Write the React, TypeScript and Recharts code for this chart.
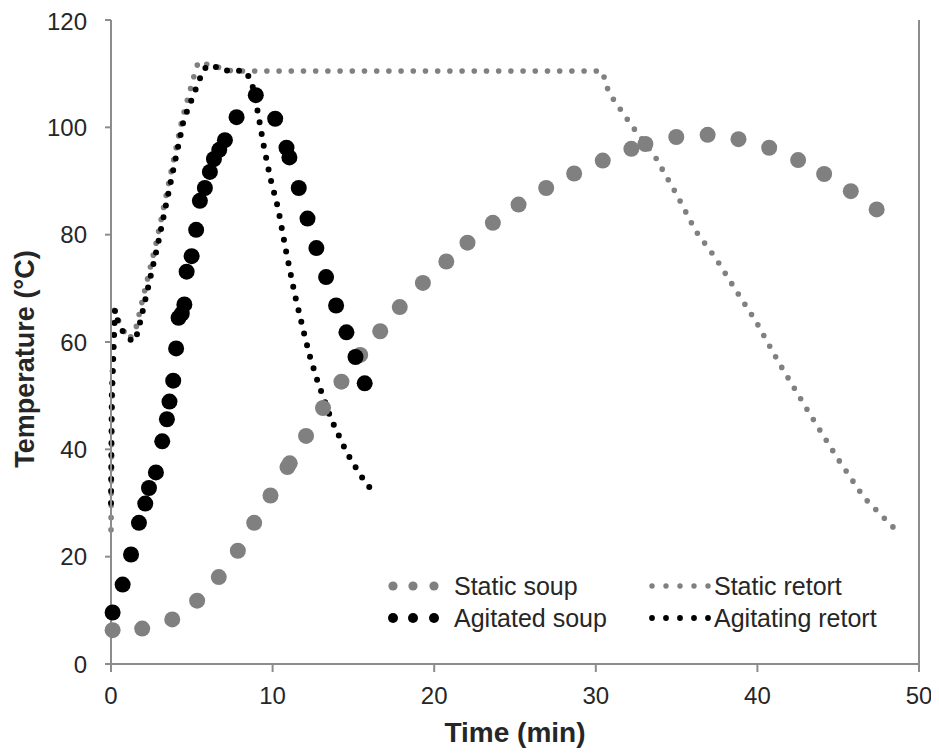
import React from 'react';
import {
  ComposedChart, Scatter, Line, XAxis, YAxis, ReferenceLine, Legend, Label,
} from 'recharts';

const GREY = '#808080';
const AXIS = '#8c8c8c';
const INK = '#262626';
const FONT = "'Liberation Sans', Arial, Helvetica, sans-serif";

/* Soup core temperature, static can (min / °C) */
const staticSoupTime = [
  0.1, 1.93, 3.79, 5.33, 6.67, 7.85, 8.86, 9.87, 10.92, 11.06, 12.07, 13.12, 14.26, 15.42,
  16.66, 17.87, 19.3, 20.75, 22.06, 23.63, 25.22, 26.93, 28.66, 30.43, 32.2, 33.07, 34.98,
  36.92, 38.83, 40.73, 42.52, 44.13, 45.78, 47.38,
];
const staticSoupTemp = [
  6.3, 6.6, 8.3, 11.8, 16.2, 21.1, 26.3, 31.4, 36.7, 37.4, 42.5, 47.7, 52.6, 57.6,
  62.0, 66.5, 71.0, 75.0, 78.5, 82.2, 85.6, 88.7, 91.4, 93.8, 96.0, 96.9, 98.2,
  98.6, 97.8, 96.2, 93.9, 91.3, 88.1, 84.7,
];

/* Soup core temperature, agitated can */
const agitatedSoupTime = [
  0.1, 0.72, 1.24, 1.73, 2.12, 2.35, 2.78, 3.17, 3.46, 3.62, 3.85, 4.03, 4.18, 4.38, 4.54,
  4.68, 4.99, 5.27, 5.5, 5.81, 6.12, 6.37, 6.7, 7.05, 7.77, 8.96, 10.16, 10.86, 11.04,
  11.62, 12.16, 12.71, 13.31, 13.93, 14.57, 15.13, 15.7,
];
const agitatedSoupTemp = [
  9.6, 14.8, 20.4, 26.3, 29.9, 32.8, 35.7, 41.5, 45.6, 48.9, 52.8, 58.8, 64.5, 65.3, 67.0,
  73.1, 76.0, 80.9, 86.3, 88.7, 91.7, 94.1, 95.8, 97.6, 101.9, 106.0, 101.6, 96.2, 94.4,
  88.7, 83.0, 77.5, 72.1, 66.8, 61.8, 57.2, 52.3,
];

/* Retort temperature, static process */
const staticRetortTime = [
  0, 0.05, 0.2, 0.6, 1.1, 1.5, 2.0, 2.8, 3.6, 4.4, 5.15, 5.4, 6.1, 7.5, 30.4, 30.8, 32.2,
  33.6, 35.0, 36.2, 37.4, 38.7, 39.9, 41.3, 43.2, 44.9, 46.6, 48.4,
];
const staticRetortTemp = [
  25, 45, 66, 63, 60.5, 62, 68.5, 78.5, 90, 101.5, 109.7, 112.2, 111.6, 110.5, 110.5, 106.5, 100.4,
  94.9, 87.5, 80.6, 75.7, 69.5, 63.9, 56.3, 46.8, 38.6, 31.0, 25.5,
];

/* Retort temperature, agitating process */
const agitatingRetortTime = [
  0, 0.05, 0.25, 0.5, 0.85, 1.35, 1.65, 2.2, 2.9, 3.7, 4.5, 5.45, 5.75, 6.2, 6.9, 8.3, 8.7,
  9.1, 9.46, 9.87, 10.34, 10.86, 11.37, 11.93, 12.32, 12.79, 13.6, 14.6, 15.43, 16.32,
];
const agitatingRetortTemp = [
  30, 50, 66, 63, 61.5, 60, 61.7, 68.9, 78.2, 89.9, 101.4, 108.7, 110.9, 111.7, 110.6, 110.5, 108.6,
  102.6, 96.4, 90.4, 84.9, 76.5, 68.9, 61.8, 57.2, 52.6, 45.8, 39.3, 35.2, 31.6,
];

const xTicks = [0, 10, 20, 30, 40, 50];
const yTicks = [0, 20, 40, 60, 80, 100, 120];

const toPoints = (xs: number[], ys: number[]) => xs.map((x, i) => ({ x, y: ys[i] }));

const staticSoup = toPoints(staticSoupTime, staticSoupTemp);
const agitatedSoup = toPoints(agitatedSoupTime, agitatedSoupTemp);
const staticRetort = toPoints(staticRetortTime, staticRetortTemp);
const agitatingRetort = toPoints(agitatingRetortTime, agitatingRetortTemp);

const tickStyle = { fill: INK, fontSize: 24, fontFamily: FONT };

const bigDot = (color: string) => (p: any) => (
  <circle cx={p.cx} cy={p.cy} r={8} fill={color} />
);

/* ---- axis titles ---- */
const XTitle = ({ viewBox }: any) => {
  const { x, y, width } = viewBox;
  return (
    <text x={x + width / 2} y={y + 78} textAnchor="middle" fill={INK}
      style={{ fontFamily: FONT, fontSize: 28, fontWeight: 700 }}>
      Time (min)
    </text>
  );
};

const YTitle = ({ viewBox }: any) => {
  const { x, y, height } = viewBox;
  const cx = x + 26;
  const cy = y + height / 2 + 17;
  return (
    <text x={cx} y={cy} transform={`rotate(-90 ${cx} ${cy})`} textAnchor="middle" fill={INK}
      style={{ fontFamily: FONT, fontSize: 27, fontWeight: 700 }}>
      Temperature (°C)
    </text>
  );
};

/* ---- legend: two columns, marker strip + name ---- */
const soupMarker = (color: string, r: number) => (
  <svg width={66} height={32}>
    {[5, 25, 46].map((cx) => <circle key={cx} cx={cx} cy={16} r={r} fill={color} />)}
  </svg>
);
const retortMarker = (color: string, r: number) => (
  <svg width={68} height={32}>
    {[6, 20, 34, 48, 62].map((cx) => <circle key={cx} cx={cx} cy={16} r={r} fill={color} />)}
  </svg>
);

const legendRows = [
  [
    { label: 'Static soup', marker: soupMarker(GREY, 4.6) },
    { label: 'Static retort', marker: retortMarker(GREY, 2.7) },
  ],
  [
    { label: 'Agitated soup', marker: soupMarker('#000', 5) },
    { label: 'Agitating retort', marker: retortMarker('#000', 2.9) },
  ],
];

const renderLegend = () => (
  <div style={{ fontFamily: FONT, fontSize: 25, color: INK }}>
    {legendRows.map((row, i) => (
      <div key={i} style={{ display: 'flex', height: 32, alignItems: 'center' }}>
        {row.map((it, j) => (
          <div key={j} style={{ display: 'flex', alignItems: 'center', width: j === 0 ? 258 : 270, whiteSpace: 'nowrap' }}>
            {it.marker}
            <span style={{ lineHeight: '32px' }}>{it.label}</span>
          </div>
        ))}
      </div>
    ))}
  </div>
);

export default function App() {
  return (
    <div style={{ position: 'relative', width: 927, height: 740 }}>
      <ComposedChart width={927} height={740} margin={{ top: 12, right: 16, left: 0, bottom: 0 }}>
        <XAxis
          type="number" dataKey="x" domain={[0, 50]} ticks={xTicks} height={84}
          tick={tickStyle} tickSize={8} tickMargin={15}
          axisLine={{ stroke: AXIS, strokeWidth: 2 }} tickLine={{ stroke: AXIS, strokeWidth: 2 }}
        >
          <Label content={XTitle} />
        </XAxis>
        <YAxis
          type="number" dataKey="y" domain={[0, 120]} ticks={yTicks} width={103}
          tick={tickStyle} tickSize={6} tickMargin={18}
          axisLine={{ stroke: AXIS, strokeWidth: 2 }} tickLine={{ stroke: AXIS, strokeWidth: 2 }}
        >
          <Label content={YTitle} />
        </YAxis>
        <ReferenceLine x={50} stroke={AXIS} strokeWidth={2} />
        <Scatter name="Static soup" data={staticSoup} dataKey="y" fill={GREY}
          shape={bigDot(GREY)} isAnimationActive={false} />
        <Scatter name="Agitated soup" data={agitatedSoup} dataKey="y" fill="#000"
          shape={bigDot('#000')} isAnimationActive={false} />
        <Line name="Static retort" data={staticRetort} dataKey="y" type="linear"
          stroke={GREY} strokeWidth={5.6} strokeDasharray="0 12.2" strokeLinecap="round"
          dot={false} activeDot={false} isAnimationActive={false} />
        <Line name="Agitating retort" data={agitatingRetort} dataKey="y" type="linear"
          stroke="#000" strokeWidth={6} strokeDasharray="0 12" strokeLinecap="round"
          dot={false} activeDot={false} isAnimationActive={false} />
        <Legend
          layout="horizontal" verticalAlign="middle" align="center"
          content={renderLegend}
          wrapperStyle={{ left: 380, top: 562, width: 540 }}
        />
      </ComposedChart>
    </div>
  );
}
